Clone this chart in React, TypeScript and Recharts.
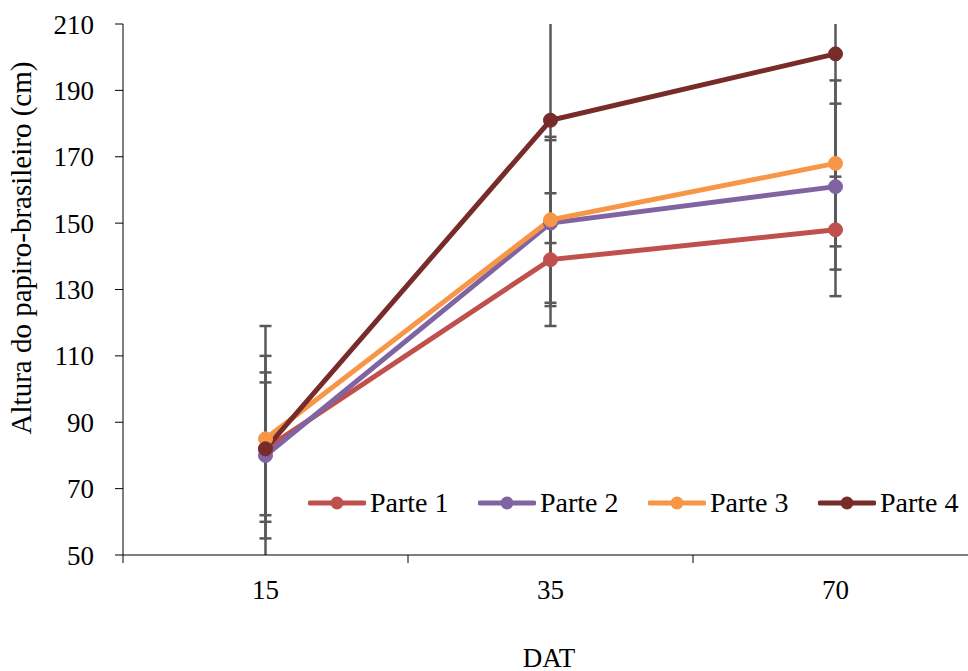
import React from "react";
import {
  LineChart,
  Line,
  XAxis,
  YAxis,
  Legend,
  ErrorBar,
  Customized,
} from "recharts";

/// days after transplanting
const categories = ["15", "35", "70"];

/// mean height per part (cm)
const parte1 = [82, 139, 148];
const parte2 = [80, 150, 161];
const parte3 = [85, 151, 168];
const parte4 = [82, 181, 201];

/// error bar sizes (cm)
const erro1 = [20, 20, 20];
const erro2 = [25, 25, 25];
const erro3 = [25, 25, 25];
const erro4 = [37, 37, 37];

const yTicks = [50, 70, 90, 110, 130, 150, 170, 190, 210];

const seriesNames = ["Parte 1", "Parte 2", "Parte 3", "Parte 4"];
const COLORS = ["#C0504D", "#8064A2", "#F79646", "#772C2A"];
const ERR_COLOR = "#595959";
const FONT = '"Liberation Serif", "Times New Roman", serif';

const CHART_W = 990;
const CHART_H = 690;
const MARGIN = { top: 24, right: 12, left: 0, bottom: 35 };
const YAXIS_W = 123;
const XAXIS_H = 100;
const PLOT_X = MARGIN.left + YAXIS_W;
const PLOT_W = CHART_W - MARGIN.left - MARGIN.right - YAXIS_W;
const PLOT_BOTTOM = CHART_H - MARGIN.bottom - XAXIS_H;
const BAND = PLOT_W / categories.length;

/// build the table recharts wants
const data = categories.map((dat, i) => ({
  dat,
  p1: parte1[i],
  p2: parte2[i],
  p3: parte3[i],
  p4: parte4[i],
  e1: erro1[i],
  e2: erro2[i],
  e3: erro3[i],
  e4: erro4[i],
}));

/// x tick: label in the middle, tick marks between categories (excel style)
function XTick(props: any) {
  const { x, payload, index } = props;
  const left = x - BAND / 2;
  return (
    <g>
      <line x1={left} x2={left} y1={PLOT_BOTTOM} y2={PLOT_BOTTOM + 8} stroke="#000" />
      {index === categories.length - 1 && (
        <line x1={x + BAND / 2} x2={x + BAND / 2} y1={PLOT_BOTTOM} y2={PLOT_BOTTOM + 8} stroke="#000" />
      )}
      <text x={x} y={PLOT_BOTTOM + 44} textAnchor="middle" fontSize={27} fontFamily={FONT} fill="#000">
        {payload.value}
      </text>
    </g>
  );
}

/// clip region for the error bars (excel cuts them at the plot area)
function PlotClip() {
  return (
    <defs>
      <clipPath id="plot-clip">
        <rect x={PLOT_X} y={MARGIN.top} width={PLOT_W} height={PLOT_BOTTOM - MARGIN.top} />
      </clipPath>
    </defs>
  );
}

function LegendContent() {
  return (
    <div style={{ display: "flex", fontFamily: FONT, fontSize: 28, color: "#000", lineHeight: "32px" }}>
      {seriesNames.map((name, i) => (
        <div key={name} style={{ display: "flex", alignItems: "center", width: 170 }}>
          <svg width={58} height={16}>
            <line x1={2} x2={56} y1={8} y2={8} stroke={COLORS[i]} strokeWidth={5} strokeLinecap="round" />
            <circle cx={29} cy={8} r={6.5} fill={COLORS[i]} />
          </svg>
          <span style={{ marginLeft: 4 }}>{name}</span>
        </div>
      ))}
    </div>
  );
}

export default function App() {
  const keys = ["p1", "p2", "p3", "p4"];
  const errKeys = ["e1", "e2", "e3", "e4"];
  return (
    <div style={{ position: "absolute", left: 0, top: 0, width: 968, height: 671, overflow: "hidden", background: "#fff", fontFamily: FONT }}>
      <LineChart width={CHART_W} height={CHART_H} data={data} margin={MARGIN}>
        <Customized component={<PlotClip />} />
        <XAxis
          dataKey="dat"
          scale="band"
          height={XAXIS_H}
          stroke="#000"
          tickLine={false}
          tick={<XTick />}
          interval={0}
          label={{
            content: () => (
              <text x={549} y={667} textAnchor="middle" fontSize={27} fontFamily={FONT} fill="#000">
                DAT
              </text>
            ),
          }}
        />
        <YAxis
          width={YAXIS_W}
          domain={[50, 210]}
          ticks={yTicks}
          allowDataOverflow
          stroke="#000"
          tickSize={8}
          tickMargin={21}
          tick={{ fontSize: 27, fontFamily: FONT, fill: "#000" }}
          label={{
            content: () => (
              <text
                x={31}
                y={248}
                transform="rotate(-90, 31, 248)"
                textAnchor="middle"
                fontSize={29}
                fontFamily={FONT}
                fill="#000"
              >
                Altura do papiro-brasileiro  (cm)
              </text>
            ),
          }}
        />
        {/* error bars go underneath the lines, so they ride on invisible series */}
        {keys.map((k, i) => (
          <Line
            key={"err-" + k}
            dataKey={k}
            stroke="none"
            dot={false}
            activeDot={false}
            legendType="none"
            isAnimationActive={false}
          >
            <ErrorBar
              dataKey={errKeys[i]}
              stroke={ERR_COLOR}
              strokeWidth={2.5}
              width={6}
              clipPath="url(#plot-clip)"
            />
          </Line>
        ))}
        {keys.map((k, i) => (
          <Line
            key={k}
            dataKey={k}
            name={seriesNames[i]}
            stroke={COLORS[i]}
            strokeWidth={5}
            dot={{ r: 7, fill: COLORS[i], stroke: COLORS[i], strokeWidth: 1 }}
            activeDot={false}
            isAnimationActive={false}
          />
        ))}
        <Legend
          content={<LegendContent />}
          wrapperStyle={{ position: "absolute", left: 308, top: 487, width: 720, height: 0, overflow: "visible" }}
        />
      </LineChart>
    </div>
  );
}
